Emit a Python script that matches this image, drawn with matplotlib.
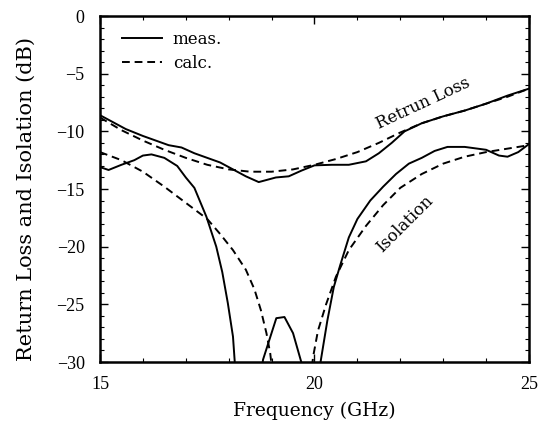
import matplotlib
matplotlib.use('Agg')
import matplotlib.pyplot as plt
from matplotlib.ticker import MultipleLocator

# return loss, measured / calculated
rl_meas_f = [15.0, 15.3, 15.6, 16.0, 16.3, 16.6, 16.9, 17.2, 17.5, 17.8, 18.1, 18.4, 18.7,
             18.9, 19.1, 19.4, 19.7, 20.0, 20.4, 20.8, 21.2, 21.5, 21.8, 22.1, 22.5, 23.0,
             23.5, 24.0, 24.5, 25.0]
rl_meas = [-8.6, -9.2, -9.8, -10.4, -10.8, -11.2, -11.4, -11.9, -12.3, -12.7, -13.3, -13.9, -14.4,
           -14.2, -14.0, -13.9, -13.4, -12.95, -12.9, -12.9, -12.6, -11.9, -11.0, -10.0, -9.3, -8.7,
           -8.2, -7.6, -6.9, -6.3]
rl_calc_f = [15.0, 15.5, 16.0, 16.5, 17.0, 17.5, 18.0, 18.5, 19.0, 19.5, 20.0, 20.5, 21.0,
             21.5, 22.0, 22.5, 23.0, 23.5, 24.0, 24.5, 25.0]
rl_calc = [-8.8, -9.9, -10.8, -11.6, -12.3, -12.9, -13.3, -13.5, -13.5, -13.3, -12.9, -12.4, -11.8,
           -11.0, -10.1, -9.3, -8.7, -8.2, -7.6, -7.0, -6.3]

# isolation, measured / calculated (dips below -30 are clipped by the axes)
iso_meas_f = [15.0, 15.2, 15.5, 15.8, 16.0, 16.2, 16.5, 16.8, 17.0, 17.2, 17.48, 17.71, 17.85,
              17.98, 18.1, 18.16, 18.5, 18.76, 18.8, 19.11, 19.3, 19.5, 19.73, 19.9, 20.1, 20.15,
              20.3, 20.45, 20.6, 20.8, 21.0, 21.3, 21.6, 21.9, 22.2, 22.5, 22.8, 23.1, 23.5,
              23.8, 24.0, 24.3, 24.5, 24.75, 25.0]
iso_meas = [-13.1, -13.35, -12.9, -12.5, -12.1, -12.0, -12.3, -13.0, -14.0, -14.9, -17.4, -20.0, -22.2,
            -24.9, -27.8, -31, -40, -31, -29.8, -26.2, -26.1, -27.5, -30.5, -40, -31, -29.8,
            -26.4, -23.5, -21.6, -19.2, -17.6, -16.0, -14.8, -13.7, -12.8, -12.3, -11.7, -11.35, -11.35,
            -11.5, -11.6, -12.1, -12.2, -11.8, -11.1]
iso_calc_f = [15.0, 15.5, 16.0, 16.5, 17.0, 17.5, 17.8, 18.1, 18.4, 18.6, 18.75, 18.88, 18.97,
              19.02, 19.5, 19.92, 19.97, 20.08, 20.27, 20.5, 20.8, 21.2, 21.6, 22.0, 22.5, 23.0,
              23.5, 24.0, 24.5, 25.0]
iso_calc = [-11.8, -12.5, -13.5, -14.8, -16.2, -17.6, -18.9, -20.3, -22.0, -23.7, -25.5, -27.5, -29.3,
            -31, -40, -31, -29.5, -27.3, -25.0, -22.6, -20.3, -18.2, -16.4, -14.9, -13.7, -12.8,
            -12.2, -11.8, -11.5, -11.2]

plt.rcParams['font.family'] = ['DejaVu Serif']

fig = plt.figure(figsize=(5.42, 4.28), dpi=100, facecolor='w')
ax = fig.add_axes([0.1845, 0.1542, 0.7915, 0.8084])

lw = 1.4
ax.plot(rl_meas_f, rl_meas, 'k-', lw=lw, label='meas.')
ax.plot(rl_calc_f, rl_calc, 'k--', lw=lw, dashes=(4, 2.5), label='calc.')
ax.plot(iso_meas_f, iso_meas, 'k-', lw=lw)
ax.plot(iso_calc_f, iso_calc, 'k--', lw=lw, dashes=(4, 2.5))

ax.set_xlim(15, 25)
ax.set_ylim(-30, 0)
ax.xaxis.set_major_locator(MultipleLocator(5))
ax.xaxis.set_minor_locator(MultipleLocator(1))
ax.yaxis.set_major_locator(MultipleLocator(5))
ax.yaxis.set_minor_locator(MultipleLocator(1))
ax.tick_params(which='both', direction='in', top=True, right=True)
ax.tick_params(which='major', length=6, width=1)
ax.tick_params(which='minor', length=3, width=0.8)
ax.tick_params(axis='x', pad=10)
ax.tick_params(axis='y', pad=11)
for lab in ax.get_xticklabels() + ax.get_yticklabels():
    lab.set_fontfamily('Liberation Serif')
    lab.set_fontsize(13)
for s in ax.spines.values():
    s.set_linewidth(1.8)

fig.text(314 / 542, 1 - 411 / 428, 'Frequency (GHz)', ha='center', va='center', fontsize=13.5)
fig.text(26 / 542, 1 - 199 / 428, 'Return Loss and Isolation (dB)', rotation=90,
         ha='center', va='center', fontsize=15)

ax.text(22.53, -7.55, 'Retrun Loss', rotation=25, ha='center', va='center', fontsize=12)
ax.text(22.11, -18.04, 'Isolation', rotation=45, ha='center', va='center', fontsize=12)

ax.legend(loc='upper left', bbox_to_anchor=(0.051, 0.958), frameon=False, fontsize=12,
          handlelength=2.4, handletextpad=0.66, borderpad=0, borderaxespad=0,
          labelspacing=0.45)

plt.savefig('out.png', dpi=100)
